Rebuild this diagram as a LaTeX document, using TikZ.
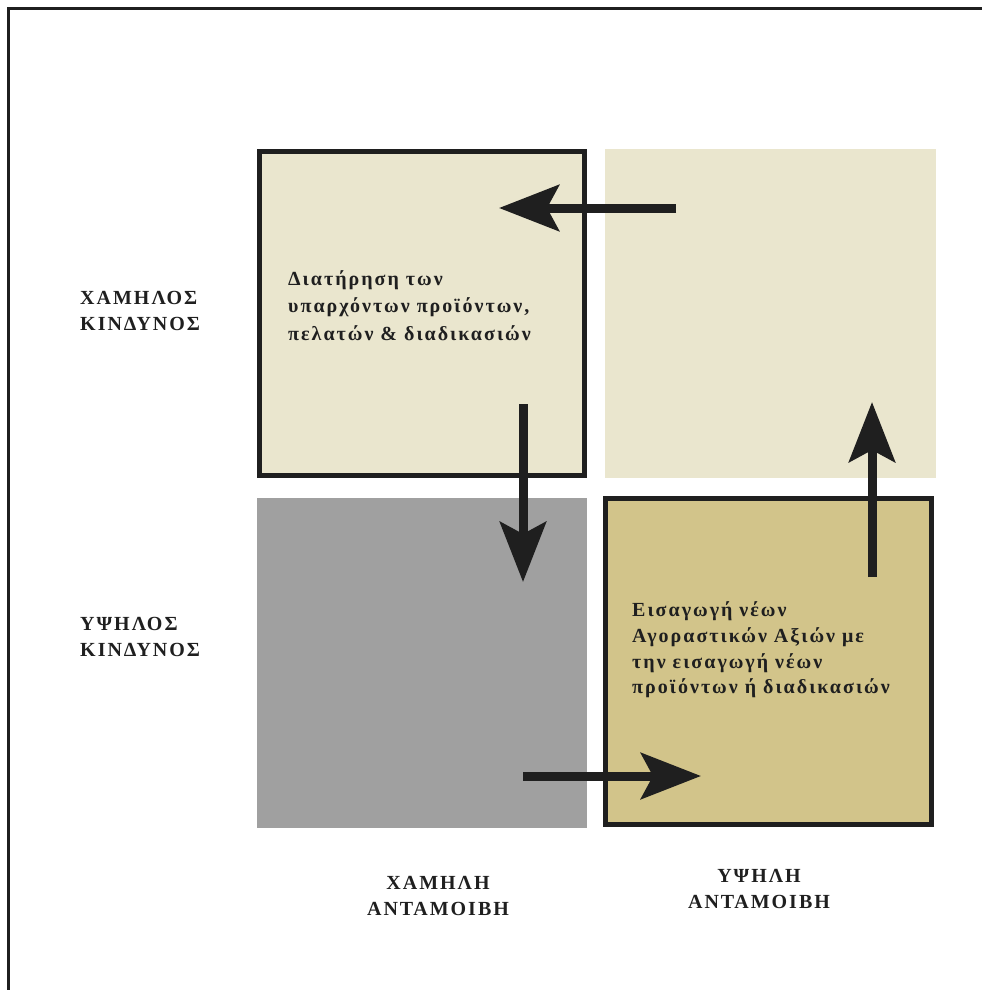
\documentclass[tikz,border=0pt]{standalone}
\usepackage{fontspec}
\setmainfont{Liberation Serif}[LetterSpace=10]
\usetikzlibrary{arrows.meta}
\definecolor{ink}{HTML}{1F1F1F}
\definecolor{paleboard}{HTML}{EAE6CE}
\definecolor{khaki}{HTML}{D2C48A}
\definecolor{slate}{HTML}{A0A0A0}
\tikzset{
  quad/.style={draw=ink, line width=5pt},
  flow/.style={draw=ink, line width=9pt,
    -{Stealth[length=60pt, width=46pt, inset=12pt]}},
  axislabel/.style={font=\bfseries\fontsize{20}{26}\selectfont, text=ink,
    inner sep=0pt},
  celltext/.style={font=\bfseries\fontsize{20}{27.5}\selectfont, text=ink,
    inner sep=0pt, align=left, anchor=west},
}
\begin{document}
\begin{tikzpicture}[x=1pt, y=-1pt]
  \useasboundingbox (0,0) rectangle (982,990);
  \fill[white] (0,0) rectangle (982,990);
  % open frame: left and top edges only
  \draw[ink, line width=3pt] (8.5,990) -- (8.5,8.5) -- (982,8.5);

  % four quadrants
  \fill[paleboard] (605,149) rectangle (936,478);
  \fill[slate] (257,498) rectangle (587,828);
  \filldraw[quad, fill=paleboard] (259.5,151.5) rectangle (584.5,475.5);
  \filldraw[quad, fill=khaki] (605.5,498.5) rectangle (931.5,824.5);

  % quadrant texts
  \node[celltext] (keep) at (288,305.5)
    {Διατήρηση των\\υπαρχόντων προϊόντων,\\πελατών \& διαδικασιών};
  \node[celltext, font=\bfseries\fontsize{20}{25.7}\selectfont] (new) at (632,650)
    {Εισαγωγή νέων\\Αγοραστικών Αξιών με\\την εισαγωγή νέων\\προϊόντων ή διαδικασιών};

  % axis labels
  \node[axislabel, align=left, anchor=west] (lowrisk) at (80,311)
    {ΧΑΜΗΛΟΣ\\ΚΙΝΔΥΝΟΣ};
  \node[axislabel, align=left, anchor=west] (highrisk) at (80,636.5)
    {ΥΨΗΛΟΣ\\ΚΙΝΔΥΝΟΣ};
  \node[axislabel, align=center] (lowreward) at (438,895.5)
    {ΧΑΜΗΛΗ\\ΑΝΤΑΜΟΙΒΗ};
  \node[axislabel, align=center] (highreward) at (759,888.5)
    {ΥΨΗΛΗ\\ΑΝΤΑΜΟΙΒΗ};

  % cycle of arrows
  \coordinate (leftS) at (676,208);
  \coordinate (leftE) at (499,208);
  \coordinate (downS) at (523,404);
  \coordinate (downE) at (523,582);
  \coordinate (rightS) at (523,776);
  \coordinate (rightE) at (701,776);
  \coordinate (upS) at (872,577);
  \coordinate (upE) at (872,402);
  \draw[flow] (leftS) -- (leftE);
  \draw[flow] (downS) -- (downE);
  \draw[flow] (rightS) -- (rightE);
  \draw[flow] (upS) -- (upE);
\end{tikzpicture}
\end{document}
